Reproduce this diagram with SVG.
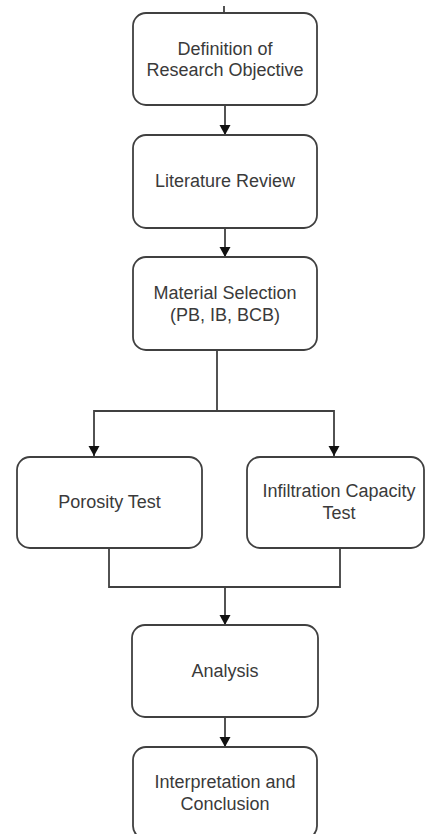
<svg xmlns="http://www.w3.org/2000/svg" width="425" height="834" viewBox="0 0 425 834">
<style>
.box{fill:#ffffff;stroke:#404040;stroke-width:1.8}
.lbl{font-family:"Liberation Sans",Arial,sans-serif;font-size:18px;fill:#3a3a3a;text-anchor:middle}
.edge{fill:none;stroke:#404040;stroke-width:1.8}
</style>
<defs>
<marker id="arr" markerUnits="userSpaceOnUse" markerWidth="12" markerHeight="12" refX="10" refY="6" orient="auto">
<path d="M0,0.5 L10,6 L0,11.5 Z" fill="#111"/>
</marker>
</defs>
<rect width="425" height="834" fill="#ffffff"/>
<g id="connectors">
<path class="edge" d="M224,6 L224,13"/>
<path class="edge" d="M225,105 L225,135" marker-end="url(#arr)"/>
<path class="edge" d="M225,228 L225,257" marker-end="url(#arr)"/>
<path class="edge" d="M217,350 L217,411"/>
<path class="edge" d="M217,411 L94,411 L94,456" marker-end="url(#arr)"/>
<path class="edge" d="M217,411 L334,411 L334,456" marker-end="url(#arr)"/>
<path class="edge" d="M109,548 L109,587 L340,587 L340,548"/>
<path class="edge" d="M225,587 L225,625" marker-end="url(#arr)"/>
<path class="edge" d="M225,717 L225,747" marker-end="url(#arr)"/>
</g>
<g id="n1">
<rect class="box" x="133" y="13" width="184" height="92" rx="13"/>
<text class="lbl" x="225" y="54.5">Definition of</text>
<text class="lbl" x="225" y="76">Research Objective</text>
</g>
<g id="n2">
<rect class="box" x="133" y="135" width="184" height="93" rx="13"/>
<text class="lbl" x="225" y="187">Literature Review</text>
</g>
<g id="n3">
<rect class="box" x="133" y="257" width="184" height="93" rx="13"/>
<text class="lbl" x="225" y="299">Material Selection</text>
<text class="lbl" x="225" y="321">(PB, IB, BCB)</text>
</g>
<g id="n4">
<rect class="box" x="17" y="457" width="185" height="91" rx="13"/>
<text class="lbl" x="109.5" y="508">Porosity Test</text>
</g>
<g id="n5">
<rect class="box" x="247" y="457" width="177" height="91" rx="13"/>
<text class="lbl" x="339" y="497">Infiltration Capacity</text>
<text class="lbl" x="339" y="519">Test</text>
</g>
<g id="n6">
<rect class="box" x="132" y="625" width="186" height="92" rx="13"/>
<text class="lbl" x="225" y="677">Analysis</text>
</g>
<g id="n7">
<rect class="box" x="133" y="747" width="184" height="92" rx="13"/>
<text class="lbl" x="225" y="788">Interpretation and</text>
<text class="lbl" x="225" y="810">Conclusion</text>
</g>
</svg>
